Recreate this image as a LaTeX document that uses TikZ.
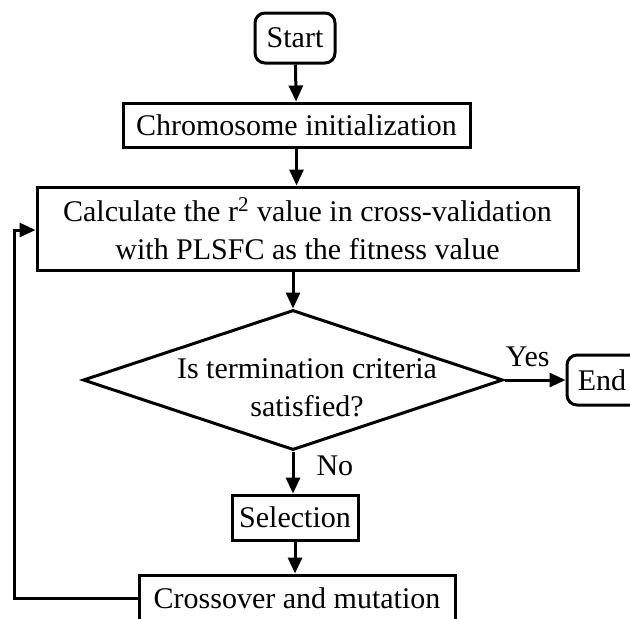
\documentclass[tikz,border=0pt]{standalone}
\usepackage{fontspec}
\setmainfont{Liberation Serif}
\usetikzlibrary{arrows.meta, positioning, shapes.geometric}

\begin{document}
\begin{tikzpicture}[
    x=0.5pt, y=-0.5pt,
    line width=1.5pt,
    font=\fontsize{15}{19}\selectfont,
    procbox/.style={draw, rectangle, inner sep=0pt, align=center},
    termbox/.style={draw, rectangle, rounded corners=5pt, inner sep=0pt, minimum width=40pt, minimum height=25pt},
    decision/.style={draw, diamond, inner sep=0pt, minimum width=210pt, minimum height=70pt},
    flow/.style={-{Triangle[length=8pt, width=7pt]}},
    lbl/.style={inner sep=1pt},
]
  \useasboundingbox (0,0) rectangle (630,618);
  \clip (0,0) rectangle (630,618);

  \node[termbox] (start) at (295,38) {Start};
  \node[procbox, minimum width=173.5pt, minimum height=22pt] (init) at (296.5,125) {Chromosome initialization};
  \node[procbox, minimum width=270.5pt, minimum height=41.5pt] (fit) at (307.5,228.5) {
    Calculate the r\textsuperscript{2} value in cross-validation \\
    with PLSFC as the fitness value
  };
  \node[decision] (dec) at (293,380) {};
  \node[align=center, inner sep=0pt] (dectext) at (307,388) {Is termination criteria \\ satisfied?};
  \node[termbox] (end) at (607,380) {\hspace*{-5pt}End};
  \node[procbox, minimum width=63pt, minimum height=22.5pt] (sel) at (295,517.5) {Selection};
  \node[procbox, minimum width=158pt, minimum height=23pt] (cross) at (297,598) {Crossover and mutation};

  \draw[flow] (start) -- (init);
  \draw[flow] (init) -- (init.south |- fit.north);
  \draw[flow] (fit.south -| dec.north) -- (dec.north);
  \draw[flow] (dec.east) -- node[lbl, above=5pt, pos=0.38] {Yes} (end.west);
  \draw[flow] (dec.south) -- node[lbl, right=10pt, pos=0.35] {No} (sel.north -| dec.south);
  \draw[flow] (sel) -- (sel.south |- cross.north);

  % back to the fitness step
  \coordinate (back) at (14,230);
  \draw[flow] (cross.west) -| (back) -- (back -| fit.west);
\end{tikzpicture}
\end{document}
